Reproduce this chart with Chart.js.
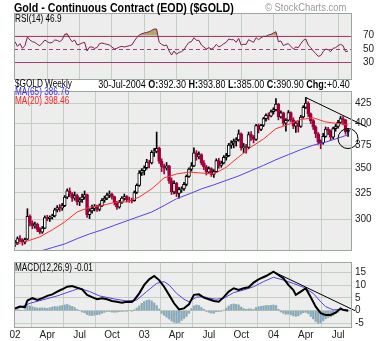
<!DOCTYPE html>
<html>
<head>
<meta charset="utf-8">
<title>Gold weekly</title>
<script src="https://cdn.jsdelivr.net/npm/chart.js@4.4.1/dist/chart.umd.min.js"></script>
<style>
  html, body { margin: 0; padding: 0; background: #fff; }
  #page { position: relative; width: 378px; height: 341px; overflow: hidden;
          font-family: "Liberation Sans", Arial, sans-serif; }
  #page canvas { position: absolute; left: 0; }
  .txt { position: absolute; white-space: nowrap; line-height: 1; color: #000;
         transform: scaleX(0.82); transform-origin: 0 0; }
  .txt.right { transform-origin: 100% 0; }
</style>
</head>
<body>
<div id="page">
  <canvas id="rsiChart" width="378" height="67" style="top:13px"></canvas>
  <canvas id="priceChart" width="378" height="182" style="top:80px"></canvas>
  <canvas id="macdChart" width="378" height="79" style="top:262px"></canvas>

  <div class="txt" style="left:14px; top:1px; font-size:13px; font-weight:bold;">Gold - Continuous Contract (EOD) ($GOLD)</div>
  <div class="txt" style="left:265px; top:2px; font-size:11.5px; color:#9a9a9a;">© StockCharts.com</div>
  <div class="txt" style="left:15px; top:14px; font-size:10px;">RSI(14) 46.9</div>
  <div class="txt" style="left:15px; top:79px; font-size:10px;">$GOLD Weekly</div>
  <div class="txt" style="left:15px; top:87px; font-size:10px; color:#3b2fe0;">MA(65) 386.76</div>
  <div class="txt" style="left:15px; top:96px; font-size:10px; color:#ff2020;">MA(20) 398.46</div>
  <div class="txt right" style="right:28px; top:79px; font-size:11px;">30-Jul-2004 <b>O:</b>392.30 <b>H:</b>393.80 <b>L:</b>385.00 <b>C:</b>390.90 <b>Chg:</b>+0.40</div>
  <div class="txt" style="left:15px; top:263px; font-size:10px;">MACD(12,26,9) -0.01</div>
</div>

<script>
// weekly bars, 4-Jan-2002 .. 30-Jul-2004 (week index 0..134)
const opens = [
  278.5,279.8,283.5,282.0,280.5,283.0,303.0,297.0,294.5,296.0,291.5,289.0,292.5,302.0,301.0,302.5,303.5,309.0,311.0,310.5,
  313.0,321.0,327.0,324.0,320.0,322.5,316.5,318.5,321.0,323.5,304.5,308.0,310.5,312.0,309.5,313.0,318.0,320.0,323.0,324.0,
  321.5,315.5,311.5,316.0,320.0,321.5,318.5,318.0,317.5,325.5,332.5,345.0,
  347.5,350.5,356.5,355.5,367.0,368.0,371.5,357.5,352.0,350.0,352.5,337.0,326.0,334.5,324.5,328.5,329.0,333.5,341.5,349.0,
  352.5,366.5,362.0,364.5,355.5,351.5,346.0,349.5,343.5,346.5,358.0,353.0,355.5,361.5,363.5,375.0,377.5,379.5,381.0,388.0,
  372.0,373.5,372.5,387.0,384.0,381.5,397.5,393.0,398.0,406.0,410.0,409.0,
  414.5,417.0,424.0,408.0,413.0,400.5,404.0,413.5,404.5,397.0,400.5,396.5,408.0,420.0,425.5,412.0,403.5,396.0,388.0,379.0,
  377.5,385.0,393.5,391.0,384.0,394.0,396.5,401.5,406.0,404.5,392.3
];
const highs = [
  282.0,285.0,286.0,283.5,284.0,310.0,304.5,299.0,298.0,297.0,293.0,294.0,303.5,304.0,303.5,305.0,310.5,313.0,314.0,315.0,
  322.5,329.0,330.0,325.5,326.0,324.0,320.5,324.0,327.0,324.0,310.0,313.5,314.0,313.5,314.5,319.5,322.0,325.0,327.0,325.0,
  322.0,317.0,318.0,321.5,324.0,322.5,321.0,320.0,327.0,334.0,347.5,349.5,
  352.5,359.5,358.5,369.0,371.5,390.0,373.0,360.0,354.5,356.0,353.0,340.0,337.0,335.5,330.5,331.0,335.5,343.0,350.5,356.0,
  372.0,369.0,367.5,365.5,358.0,353.0,351.5,350.5,348.5,360.0,360.5,357.5,363.5,366.0,377.0,380.0,382.0,383.5,392.5,389.0,
  377.0,376.0,390.0,390.5,386.0,399.0,399.5,399.0,407.5,412.0,413.0,416.5,
  419.5,431.0,425.0,415.5,414.0,406.0,416.0,414.5,407.0,403.0,403.5,410.0,422.0,432.5,427.0,413.0,405.0,397.5,389.5,381.0,
  388.5,396.0,395.5,392.5,396.0,399.0,404.0,409.0,408.5,405.0,393.8
];
const lows = [
  277.0,278.5,281.0,278.0,279.0,282.5,294.5,292.0,292.5,289.5,287.5,288.0,292.0,299.0,298.5,300.5,302.5,307.0,307.5,308.5,
  312.0,319.5,321.5,317.0,318.0,313.5,313.0,316.0,319.0,302.0,301.0,306.0,308.0,307.5,308.0,312.0,316.0,318.5,320.5,319.0,
  313.5,309.5,310.5,315.0,318.0,316.5,316.0,315.5,317.0,324.5,331.5,342.5,
  343.0,349.0,350.5,354.5,362.5,366.5,355.0,346.5,344.0,348.0,334.5,323.5,324.0,321.5,320.0,325.5,327.5,332.0,340.5,347.0,
  351.5,358.5,360.0,353.5,348.5,343.0,345.0,341.5,340.5,345.5,350.0,351.0,354.5,358.5,362.5,371.5,372.0,374.0,379.5,369.5,
  366.5,366.0,371.0,380.5,377.5,380.5,389.0,391.5,396.5,403.0,404.5,408.0,
  411.5,415.5,404.5,406.5,398.0,391.0,403.0,402.0,394.0,389.5,390.0,395.5,406.5,418.5,408.5,400.0,393.0,383.5,376.0,371.0,
  376.0,384.0,387.0,380.5,382.5,391.0,394.5,400.0,398.5,387.5,385.0
];
const closes = [
  279.8,283.5,282.0,280.5,282.8,303.0,297.0,294.5,296.0,291.5,289.0,292.5,302.0,301.0,302.5,303.5,309.0,311.0,310.5,313.0,
  321.0,327.0,324.0,320.0,322.5,316.5,318.5,321.0,323.5,304.5,308.0,310.5,312.0,309.5,313.0,318.0,320.0,323.0,324.0,321.5,
  315.5,311.5,316.0,320.0,321.5,318.5,318.0,317.5,325.5,332.5,345.0,347.5,
  350.5,356.5,355.5,367.0,368.0,371.5,357.5,352.0,350.0,352.5,337.0,326.0,334.5,324.5,328.5,329.0,333.5,341.5,349.0,352.5,
  366.5,362.0,364.5,355.5,351.5,346.0,349.5,343.5,346.5,358.0,353.0,355.5,361.5,363.5,375.0,377.5,379.5,381.0,388.0,372.0,
  373.5,372.5,387.0,384.0,381.5,397.5,393.0,398.0,406.0,410.0,409.0,414.5,
  417.0,424.0,408.0,413.0,400.5,404.0,413.5,404.5,397.0,400.5,396.5,408.0,420.0,425.5,412.0,403.5,396.0,388.0,379.0,377.5,
  385.0,393.5,391.0,384.0,394.0,396.5,401.5,406.0,404.5,390.5,390.9
];

// moving averages, sampled every 5 weeks
const maWeeks = [0,5,10,15,20,25,30,35,40,45,50,55,60,65,70,75,80,85,90,95,100,105,110,115,120,125,130,134];
const ma20 = [278.5,281.5,285,291,298,307,311.5,313,316,316.5,321,329,340,344,346,345,344,351,362,373,382,394,399,405,407,402,400,398.5];
const ma65 = [270,271.5,273,276,279,283.5,287.5,291,295,299,303,307,313,319.5,324,329,333,337.5,342,347.5,353,359,364.5,370,375,378.5,383,386.8];

// RSI(14), one value per week
const rsiValues = [
  61,54,58,51,55,68,63.5,61,60,57,55,59,63.5,61,59,60,63.5,63,61,64,
  72,73,66,61,63.5,56,57,59,60,47,53,53,51,52,58,59,58,57,56,53,
  50,51,53,54,53,54,55,56,62,67,71,73,74,75,76,78,80,80,60,57,
  55,56,47,41,47,42,45,46,49,55,60,61,67,63,63,56,53,50,52,50,
  52,57,53,55,58,60,65,64,64,60,66,56,57,57,64,62,60,67,64,67,
  69,69,71,72,74,76,61,62,55,57,58,54,50,53,52,58,63,65,56,52,
  47,43,39,40,46,50,49,46,51,52,55,57,55,46,46.9
];

// MACD(12,26,9)
const macdWeeks = [0,2,4,5,7,9,11,13,15,17,19,21,23,25,27,29,31,33,35,37,39,41,43,45,47,48,50,52,54,56,58,60,62,64,66,68,70,72,74,76,
  78,80,82,84,86,88,90,92,94,96,98,101,104,106,108,110,112,113,115,117,119,121,123,125,127,129,131,132,134];
const macdValues = [0.9,1.6,1.3,4.0,4.9,4.2,4.9,5.8,6.4,7.5,8.4,9.4,9.7,9.0,8.4,6.2,5.3,4.5,4.9,4.5,3.8,3.5,3.1,3.5,3.4,4.2,6.8,10.1,12.3,13.6,
  12.0,9.4,6.2,2.9,0.5,0.9,2.5,6.2,6.4,5.1,4.5,3.8,3.5,5.3,7.5,8.8,8.1,8.8,9.2,11.0,12.3,13.6,15.3,14.0,12.7,10.1,8.1,6.2,7.5,8.8,
  5.3,1.6,-1.0,-1.7,-1.7,-0.8,0.9,0.3,-0.01];
const signalWeeks = [0,6,11,17,23,26,30,34,40,45,49,53,57,60,62,65,68,70,73,76,78,81,84,88,92,96,100,104,108,112,116,120,123,125,128,131,134];
const signalValues = [0.5,2.9,4.2,5.8,7.8,8.8,7.5,5.8,4.6,3.8,4.2,7.5,10.7,11.4,10.1,6.8,4.5,3.5,5.3,5.5,4.9,4.5,4.9,7.1,8.1,9.4,11.4,13.1,12.0,10.7,
  9.2,6.8,3.5,1.6,0.3,0.5,0.3];
const histValues = [
  0.2,0.3,0.2,0.0,0.3,2.0,1.8,1.5,1.2,1.0,1.0,1.1,1.0,0.9,1.1,1.4,1.6,1.5,1.8,2.0,
  2.2,2.4,2.0,1.6,1.2,0.4,0.0,-0.5,-0.8,-1.5,-1.8,-1.9,-1.7,-1.6,-1.4,-1.0,-0.6,-0.3,-0.3,-0.5,
  -0.6,-0.5,-0.4,-0.3,-0.2,-0.1,0.0,-0.2,0.3,1.0,1.8,2.8,3.5,4.0,4.2,3.8,3.0,2.0,0.6,-1.0,
  -1.8,-2.5,-3.2,-4.0,-4.5,-4.8,-4.6,-3.8,-3.0,-2.2,-1.0,0.8,1.8,2.2,2.0,1.2,0.5,-0.3,-0.6,-0.9,
  -1.0,-0.4,-0.3,-0.2,0.2,1.0,1.8,2.4,2.6,2.5,2.2,1.4,0.8,0.5,0.7,0.6,0.4,1.2,1.5,1.7,
  1.8,2.0,2.0,2.1,2.2,2.0,0.5,-0.5,-1.0,-1.4,-1.3,-1.6,-2.0,-2.2,-2.0,-1.3,-0.8,-0.6,-1.2,-2.2,
  -3.2,-4.2,-5.0,-4.8,-4.0,-3.2,-2.6,-2.4,-1.8,-1.2,-0.6,0.4,0.5,0.2,-0.01
];

// trendlines and the marked last bar
const priceTrendWeeks = [117, 141.6];
const priceTrendValues = [432.5, 396];
const macdTrendWeeks = [104, 136.8];
const macdTrendValues = [15.3, 0];
const markWeek = 134;
const markPrice = 382.5;

// axis ticks
const quarterWeeks = [0, 13, 26, 39, 52, 65, 78, 91, 104, 117, 130];
const quarterLabels = ['02', 'Apr', 'Jul', 'Oct', '03', 'Apr', 'Jul', 'Oct', '04', 'Apr', 'Jul'];
const priceTicks = [300, 325, 350, 375, 400, 425];
const rsiTicks = [30, 50, 70];
const macdTicks = [-5, 0, 5, 10, 15];

const GRID = '#c3cfc3';
const FRAME = '#9aa89a';
const PANEL = '#ededed';
const MAROON = '#a0003c';

Chart.defaults.font.family = '"Liberation Sans", Arial, sans-serif';
Chart.defaults.font.size = 10;
Chart.defaults.color = '#222';
Chart.defaults.animation = false;
Chart.defaults.plugins.legend.display = false;
Chart.defaults.plugins.tooltip.enabled = false;

// grey panel with a thin frame
const panelFrame = {
    id: 'panelFrame',
    beforeDraw(chart) {
        const { ctx, chartArea: a } = chart;
        ctx.save();
        ctx.fillStyle = PANEL;
        ctx.fillRect(a.left, a.top, a.right - a.left, a.bottom - a.top);
        ctx.restore();
    },
    afterDraw(chart) {
        const { ctx, chartArea: a } = chart;
        ctx.save();
        ctx.strokeStyle = FRAME;
        ctx.lineWidth = 1;
        ctx.strokeRect(a.left + 0.5, a.top + 0.5, a.right - a.left - 1, a.bottom - a.top - 1);
        ctx.restore();
    }
};

// RSI 70 / 50 / 30 levels
const rsiLevels = {
    id: 'rsiLevels',
    beforeDatasetsDraw(chart) {
        const { ctx, chartArea: a, scales: { y } } = chart;
        ctx.save();
        ctx.strokeStyle = '#aa3c6e';
        ctx.lineWidth = 1;
        rsiTicks.forEach(v => {
            const py = Math.round(y.getPixelForValue(v)) + 0.5;
            ctx.setLineDash(v === 50 ? [4, 3] : []);
            ctx.beginPath();
            ctx.moveTo(a.left, py);
            ctx.lineTo(a.right, py);
            ctx.stroke();
        });
        ctx.restore();
    }
};

// keep every panel's plot box fixed: no label overhang padding
function noOverhang(s) {
    s.paddingTop = 0;
    s.paddingBottom = 0;
    s.paddingLeft = 0;
    s.paddingRight = 0;
}

function weekAxis(showLabels) {
    return {
        type: 'linear',
        min: -0.4,
        max: 135.6,
        offset: false,
        afterBuildTicks: s => { s.ticks = quarterWeeks.map(v => ({ value: v })); },
        ticks: {
            display: showLabels,
            autoSkip: false,
            maxRotation: 0,
            padding: 1,
            callback: v => quarterLabels[quarterWeeks.indexOf(v)]
        },
        grid: { color: GRID, drawTicks: false },
        border: { display: false },
        afterFit: s => { s.height = showLabels ? 13 : 0; noOverhang(s); }
    };
}

function valueAxis(type, min, max, tickValues) {
    return {
        type: type,
        position: 'right',
        min: min,
        max: max,
        afterBuildTicks: s => { s.ticks = tickValues.map(v => ({ value: v })); },
        ticks: { padding: 3, autoSkip: false, callback: v => String(v) },
        grid: { color: GRID, drawTicks: false },
        border: { display: false },
        afterFit: s => { s.width = 26; noOverhang(s); }
    };
}

const weekIdx = closes.map((c, i) => i);
const candleColor = closes.map((c, i) => (i > 0 && c < closes[i - 1]) ? MAROON : '#000');
const bodyFill = closes.map((c, i) => c < opens[i] ? candleColor[i] : '#fff');

// RSI panel
new Chart(document.getElementById('rsiChart'), {
    type: 'line',
    data: {
        datasets: [{
            data: rsiValues.map((v, i) => ({ x: i, y: v })),
            borderColor: '#7d1f4c',
            borderWidth: 1,
            pointRadius: 0,
            fill: { target: { value: 70 }, above: '#b9a66f', below: 'rgba(0,0,0,0)' }
        }]
    },
    options: {
        responsive: false,
        layout: { padding: { left: 14 } },
        scales: {
            x: weekAxis(false),
            y: Object.assign(valueAxis('linear', 3.4, 104.1, rsiTicks), { grid: { display: false } })
        }
    },
    plugins: [panelFrame, rsiLevels]
});

// price panel: candles, moving averages, trendline
new Chart(document.getElementById('priceChart'), {
    type: 'bar',
    data: {
        datasets: [
            {
                data: weekIdx.map(i => ({ x: i, y: [lows[i], highs[i]] })),
                backgroundColor: candleColor,
                barThickness: 1,
                grouped: false,
                order: 6
            },
            {
                data: weekIdx.map(i => ({ x: i, y: [Math.min(opens[i], closes[i]), Math.max(opens[i], closes[i])] })),
                backgroundColor: bodyFill,
                borderColor: candleColor,
                borderWidth: 1,
                borderSkipped: false,
                barThickness: 3,
                grouped: false,
                order: 5
            },
            {
                type: 'line',
                data: maWeeks.map((w, i) => ({ x: w, y: ma65[i] })),
                borderColor: '#5a40e0',
                borderWidth: 1,
                pointRadius: 0,
                order: 3
            },
            {
                type: 'line',
                data: maWeeks.map((w, i) => ({ x: w, y: ma20[i] })),
                borderColor: '#ff3030',
                borderWidth: 1,
                pointRadius: 0,
                order: 2
            },
            {
                type: 'line',
                data: priceTrendWeeks.map((w, i) => ({ x: w, y: priceTrendValues[i] })),
                borderColor: '#000',
                borderWidth: 1,
                pointRadius: 0,
                clip: false,
                order: 1
            },
            {
                type: 'line',
                data: [{ x: markWeek, y: markPrice }],
                showLine: false,
                pointRadius: 10,
                pointBorderWidth: 1,
                pointBorderColor: '#000',
                pointBackgroundColor: 'rgba(0,0,0,0)',
                clip: false,
                order: 0
            }
        ]
    },
    options: {
        responsive: false,
        layout: { padding: { left: 14 } },
        scales: {
            x: weekAxis(false),
            y: valueAxis('logarithmic', 273.2, 441, priceTicks)
        }
    },
    plugins: [panelFrame]
});

// MACD panel
new Chart(document.getElementById('macdChart'), {
    type: 'bar',
    data: {
        datasets: [
            {
                data: histValues.map((v, i) => ({ x: i, y: v })),
                backgroundColor: '#d2c282',
                barThickness: 2,
                grouped: false,
                order: 6
            },
            {
                data: histValues.map((v, i) => ({ x: i, y: v })),
                backgroundColor: '#74aade',
                barThickness: 1,
                grouped: false,
                order: 5
            },
            {
                type: 'line',
                data: signalWeeks.map((w, i) => ({ x: w, y: signalValues[i] })),
                borderColor: '#5a40e0',
                borderWidth: 1,
                pointRadius: 0,
                order: 3
            },
            {
                type: 'line',
                data: macdWeeks.map((w, i) => ({ x: w, y: macdValues[i] })),
                borderColor: '#000',
                borderWidth: 2,
                pointRadius: 0,
                order: 2
            },
            {
                type: 'line',
                data: macdTrendWeeks.map((w, i) => ({ x: w, y: macdTrendValues[i] })),
                borderColor: '#000',
                borderWidth: 1,
                pointRadius: 0,
                clip: false,
                order: 1
            }
        ]
    },
    options: {
        responsive: false,
        layout: { padding: { left: 14 } },
        scales: {
            x: weekAxis(true),
            y: valueAxis('linear', -6.8, 19.1, macdTicks)
        }
    },
    plugins: [panelFrame]
});
</script>
</body>
</html>
